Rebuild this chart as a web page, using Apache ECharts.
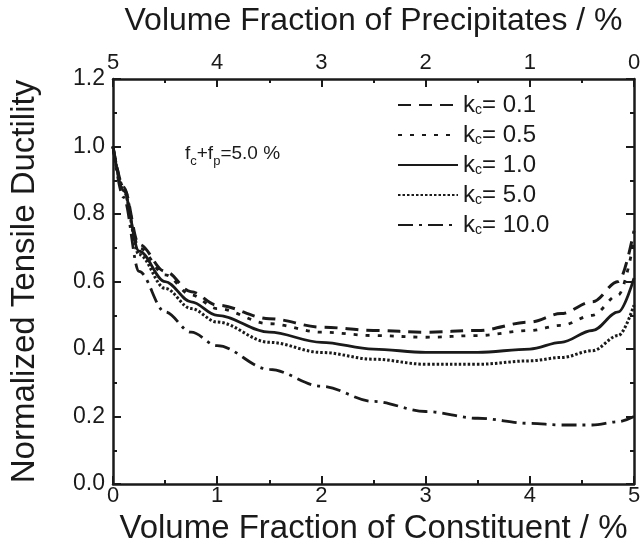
<!DOCTYPE html>
<html>
<head>
<meta charset="utf-8">
<script src="https://cdn.jsdelivr.net/npm/echarts@6/dist/echarts.min.js"></script>
<style>
  html, body { margin: 0; padding: 0; background: #fff; }
  #chart { width: 644px; height: 550px; }
</style>
</head>
<body>
<div id="chart"></div>
<script>
// Volume fraction of constituent (%) at which each curve is sampled
const fraction = [0, 0.1, 0.25, 0.5, 0.75, 1, 1.5, 2, 2.5, 3, 3.5, 4, 4.3, 4.6, 4.85, 5];

// Normalized tensile ductility for each constituent strength ratio k_c
const kc01  = [1.0, 0.88, 0.71, 0.63, 0.57, 0.53, 0.49, 0.465, 0.455, 0.45, 0.455, 0.48, 0.505, 0.54, 0.60, 0.75];
const kc05  = [1.0, 0.88, 0.70, 0.62, 0.56, 0.52, 0.475, 0.45, 0.44, 0.435, 0.44, 0.455, 0.47, 0.50, 0.56, 0.72];
const kc10  = [1.0, 0.87, 0.69, 0.60, 0.54, 0.50, 0.45, 0.42, 0.40, 0.39, 0.39, 0.40, 0.42, 0.455, 0.51, 0.61];
const kc50  = [1.0, 0.87, 0.68, 0.58, 0.52, 0.48, 0.42, 0.39, 0.37, 0.355, 0.355, 0.365, 0.375, 0.395, 0.44, 0.53];
const kc100 = [1.0, 0.85, 0.63, 0.51, 0.45, 0.41, 0.34, 0.29, 0.245, 0.215, 0.195, 0.18, 0.175, 0.175, 0.185, 0.20];

const legendValues = ['0.1', '0.5', '1.0', '5.0', '10.0'];
const bottomTicks = ['0', '1', '2', '3', '4', '5'];
const topTicks = ['0', '1', '2', '3', '4', '5'];

const FONT = '"Liberation Sans", Arial, sans-serif';
const INK = '#1a1a1a';

const seriesData = [kc01, kc05, kc10, kc50, kc100];
const dashes = [[13, 8], [4, 8], 'solid', [2.5, 2], [15, 6, 3, 6]];
const widths = [3, 2.8, 2.8, 3, 2.8];

const chart = echarts.init(document.getElementById('chart'), null, { renderer: 'canvas' });

const baseAxis = {
  type: 'value',
  min: 0,
  axisLine: { show: true, onZero: false, lineStyle: { color: INK, width: 2.5 } },
  axisTick: { show: true, inside: true, length: 8, lineStyle: { color: INK, width: 2 } },
  minorTick: { show: true, splitNumber: 2, length: 4, lineStyle: { color: INK, width: 2 } },
  splitLine: { show: false },
  axisLabel: { color: INK, fontFamily: FONT, fontSize: 22 },
  nameTextStyle: { color: INK, fontFamily: FONT, fontSize: 32 }
};

const series = seriesData.map((vals, i) => ({
  name: legendValues[i],
  type: 'line',
  xAxisIndex: 0,
  yAxisIndex: 0,
  data: fraction.map((x, j) => [x, vals[j]]),
  showSymbol: false,
  symbol: 'none',
  smooth: 0.35,
  smoothMonotone: 'x',
  itemStyle: { color: INK },
  lineStyle: { color: INK, width: widths[i], type: dashes[i] },
  z: 3
}));

chart.setOption({
  animation: false,
  backgroundColor: '#fff',
  grid: { left: 111, right: 10, top: 73, bottom: 39, containLabel: false },
  xAxis: [
    Object.assign({}, baseAxis, {
      position: 'bottom',
      max: 5,
      interval: 1,
      axisLabel: Object.assign({}, baseAxis.axisLabel, {
        margin: 1,
        formatter: v => bottomTicks[Math.round(v)]
      }),
      name: 'Volume Fraction of Constituent / %',
      nameLocation: 'middle',
      nameGap: 24,
      nameTextStyle: { color: INK, fontFamily: FONT, fontSize: 33 }
    }),
    Object.assign({}, baseAxis, {
      position: 'top',
      max: 5,
      interval: 1,
      inverse: true,
      axisLabel: Object.assign({}, baseAxis.axisLabel, {
        margin: 5,
        formatter: v => topTicks[Math.round(v)]
      }),
      name: 'Volume Fraction of Precipitates / %',
      nameLocation: 'middle',
      nameGap: 42
    })
  ],
  yAxis: [
    Object.assign({}, baseAxis, {
      position: 'left',
      max: 1.2,
      interval: 0.2,
      axisLabel: Object.assign({}, baseAxis.axisLabel, {
        margin: 8,
        fontSize: 23,
        formatter: v => v.toFixed(1)
      }),
      name: 'Normalized Tensile Ductility',
      nameLocation: 'middle',
      nameGap: 72,
      nameTextStyle: { color: INK, fontFamily: FONT, fontSize: 33 }
    }),
    Object.assign({}, baseAxis, {
      position: 'right',
      max: 1.2,
      interval: 0.2,
      axisLabel: { show: false }
    })
  ],
  legend: {
    orient: 'vertical',
    left: 392,
    top: 88,
    itemWidth: 60,
    itemHeight: 14,
    itemGap: 6,
    data: legendValues,
    itemStyle: { opacity: 0 },
    formatter: name => '{k|k}{s|c}{t|= ' + name + '}',
    textStyle: {
      color: INK,
      fontFamily: FONT,
      fontSize: 24,
      rich: {
        k: { fontFamily: FONT, fontSize: 24, color: INK, lineHeight: 24, verticalAlign: 'middle' },
        s: { fontFamily: FONT, fontSize: 14, color: INK, lineHeight: 10, verticalAlign: 'bottom' },
        t: { fontFamily: FONT, fontSize: 24, color: INK, lineHeight: 24, verticalAlign: 'middle' }
      }
    }
  },
  graphic: [{
    type: 'text',
    left: 185,
    top: 144,
    style: {
      text: '{m|f}{s|c}{m|+f}{s|p}{m|=5.0 %}',
      fill: INK,
      rich: {
        m: { fontFamily: FONT, fontSize: 19, fill: INK, lineHeight: 28, verticalAlign: 'middle' },
        s: { fontFamily: FONT, fontSize: 13, fill: INK, lineHeight: 10, verticalAlign: 'bottom' }
      }
    }
  }],
  series: series
});
</script>
</body>
</html>
